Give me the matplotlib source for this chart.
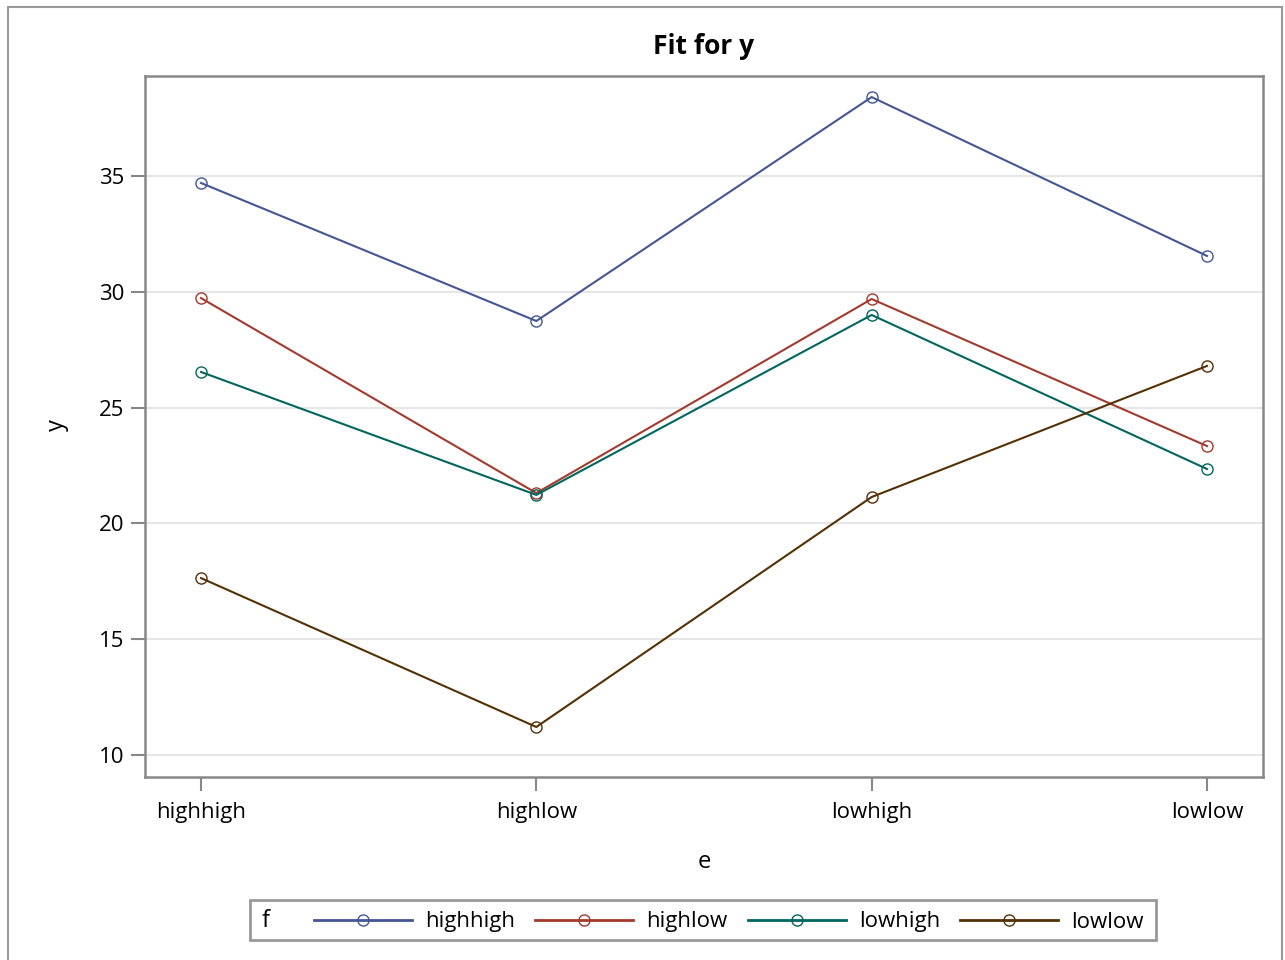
import matplotlib
import matplotlib.pyplot as plt
from matplotlib.lines import Line2D
from matplotlib.patches import Rectangle
matplotlib.use('Agg')

# categories on the x axis (e) and groups (f)
e_levels = ['highhigh', 'highlow', 'lowhigh', 'lowlow']
f_levels = ['highhigh', 'highlow', 'lowhigh', 'lowlow']

# fitted y per group, one value per e level
y_highhigh = [34.70, 28.74, 38.41, 31.55]
y_highlow = [29.73, 21.31, 29.69, 23.34]
y_lowhigh = [26.54, 21.23, 29.00, 22.35]
y_lowlow = [17.64, 11.21, 21.14, 26.80]

colors = ['#445694', '#A23A2E', '#01665E', '#543005']
series = [y_highhigh, y_highlow, y_lowhigh, y_lowlow]

plt.rcParams['font.family'] = ['Open Sans', 'DejaVu Sans']

W, H = 1285, 960
fig = plt.figure(figsize=(W / 100, H / 100), dpi=100)
ax = fig.add_axes([145 / W, 1 - 777 / H, (1263 - 145) / W, (777 - 76) / H])

x = list(range(len(e_levels)))
handles = []
for vals, col, name in zip(series, colors, f_levels):
    ax.plot(x, vals, color=col, lw=1.5, marker='o', ms=8, mfc='none', mec=col, mew=1.0, zorder=3)
    handles.append(Line2D([], [], color=col, lw=2.0, marker='o', ms=8, mfc='none', mec=col, mew=1.0, label=name))

ax.set_xlim(-0.167, 3.167)
ax.set_ylim(9.05, 39.32)
ax.set_xticks(x)
ax.set_xticklabels(e_levels)
ax.set_yticks([10, 15, 20, 25, 30, 35])
ax.grid(axis='y', color='#E4E4E4', lw=1.3, zorder=0)
ax.set_axisbelow(True)
for sp in ax.spines.values():
    sp.set_color('#888888')
    sp.set_linewidth(1.8)
ax.tick_params(colors='#888888', labelcolor='black', labelsize=16, length=10, width=1.5, pad=5)
ax.tick_params(axis='x', pad=8)

fig.text(704 / W, 1 - 47 / H, 'Fit for y', ha='center', va='center', fontsize=19, fontweight='bold')
fig.text(704 / W, 1 - 862 / H, 'e', ha='center', va='center', fontsize=17)
fig.text(57 / W, 1 - 425 / H, 'y', ha='center', va='center', fontsize=17, rotation=90)

# legend box with the group title on the left
fig.patches.append(Rectangle((250 / W, 1 - 940 / H), (1156 - 250) / W, 40 / H,
                             transform=fig.transFigure, fill=False, ec='#999999', lw=2.0))
fig.text(262 / W, 1 - 921 / H, 'f', ha='left', va='center', fontsize=17)
fig.legend(handles=handles, loc='center', bbox_to_anchor=(729 / W, 1 - 922 / H), ncol=4,
           frameon=False, fontsize=16, handlelength=4.4, handletextpad=0.6, columnspacing=0.9,
           borderaxespad=0, borderpad=0)

# outer frame of the figure
fig.patches.append(Rectangle((8 / W, -0.01), (1282 - 8) / W, 1 - 7 / H + 0.01,
                             transform=fig.transFigure, fill=False, ec='#999999', lw=1.5))

fig.savefig('out.png', dpi=100)
